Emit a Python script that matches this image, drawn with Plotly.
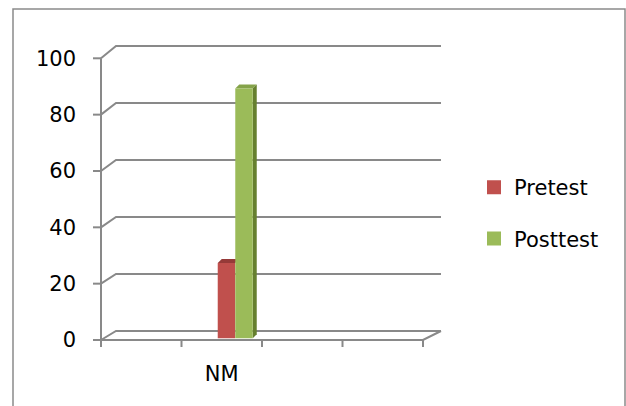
import plotly.graph_objects as go

# ---- data -------------------------------------------------------------
categories = ["", "NM", "", ""]
series_names = ["Pretest", "Posttest"]
pretest = [None, 26, None, None]
posttest = [None, 88, None, None]
y_ticks = [0, 20, 40, 60, 80, 100]

# ---- styling ----------------------------------------------------------
FONT = "DejaVu Sans, Verdana, sans-serif"
FONT_SIZE = 21
GRID = "#898989"
RED, RED_TOP = "#C0504D", "#953A38"
GREEN, GREEN_TOP, GREEN_SIDE = "#9BBB59", "#85A34A", "#66802F"

W, H = 626, 406
XU = 80.5          # pixels per category
YU = 2.817         # pixels per value unit (front plane)
L, R, T, B = 91, 175, 38, 56
AX_X = 101         # pixel column of the front value axis
AX_Y = 340         # pixel row of the zero line (front)

x_lo = -0.5 - (AX_X - L) / XU
x_hi = x_lo + (W - L - R) / XU
y_lo = -((H - B) - AX_Y) / YU
y_hi = y_lo + (H - T - B) / YU

# 3-D depth offsets (pixels -> data units)
BACK_DX_L = 15 / XU
BACK_DX_R = 18 / XU
BACK_LIFT = 9 / YU
BACK_SCALE = 2.85 / YU
BAR_DX = 4 / XU
BAR_DY = 4 / YU
BAR_OUTLINE = 2                    # px outline in the bar's own colour
HALF = BAR_OUTLINE / 2
BAR_BASE = (1.7 + HALF) / YU
BAR_W = 0.217                      # visible face width
OFFSETS = [-0.050, 0.168]          # visible face left edge, from category centre
YTICK_LEN = 8 / XU
XTICK_LEN = 7 / YU

n = len(categories)
x_first, x_last = -0.5, n - 0.5


def back_y(v):
    return v * BACK_SCALE + BACK_LIFT


shapes = []
line = dict(color=GRID, width=2)

# walls: side-wall diagonals and back-wall gridlines
for v in y_ticks:
    vb = back_y(v)
    shapes.append(dict(
        type="path", xref="x", yref="y", layer="below", line=line,
        path=f"M{x_first},{v} L{x_first + BACK_DX_L},{vb} L{x_last + BACK_DX_R},{vb}",
    ))
# floor front edge and right edge
shapes.append(dict(
    type="path", xref="x", yref="y", layer="below", line=line,
    path=f"M{x_first},0 L{x_last},0 L{x_last + BACK_DX_R},{back_y(0)}",
))
# front value axis with its ticks
shapes.append(dict(type="line", xref="x", yref="y", layer="below", line=line,
                   x0=x_first, x1=x_first, y0=0, y1=max(y_ticks)))
for v in y_ticks:
    shapes.append(dict(type="line", xref="x", yref="y", layer="below", line=line,
                       x0=x_first - YTICK_LEN, x1=x_first, y0=v, y1=v))
# category boundary ticks
for k in range(n + 1):
    b = k - 0.5
    shapes.append(dict(type="line", xref="x", yref="y", layer="below", line=line,
                       x0=b, x1=b, y0=0, y1=-XTICK_LEN))

# bar tops and sides for the 3-D look
no_line = dict(width=0)
for vals, off, top_c, side_c in [(pretest, OFFSETS[0], RED_TOP, None),
                                 (posttest, OFFSETS[1], GREEN_TOP, GREEN_SIDE)]:
    for i, v in enumerate(vals):
        if v is None:
            continue
        x0 = i + off
        x1 = x0 + BAR_W
        top = BAR_BASE + v + HALF / YU
        bot = BAR_BASE - HALF / YU
        shapes.append(dict(
            type="path", xref="x", yref="y", layer="below", line=no_line, fillcolor=top_c,
            path=(f"M{x0},{top} L{x0 + BAR_DX},{top + BAR_DY} "
                  f"L{x1 + BAR_DX},{top + BAR_DY} L{x1},{top} Z"),
        ))
        if side_c:
            shapes.append(dict(
                type="path", xref="x", yref="y", layer="below", line=no_line, fillcolor=side_c,
                path=(f"M{x1},{bot} L{x1},{top} L{x1 + BAR_DX},{top + BAR_DY} "
                      f"L{x1 + BAR_DX},{bot + BAR_DY} Z"),
            ))

# outer chart border
pw, ph = W - L - R, H - T - B
shapes.append(dict(
    type="rect", xref="paper", yref="paper", layer="above",
    line=dict(color="#8A8A8A", width=1.5),
    x0=(13 - L) / pw, x1=(625 - L) / pw,
    y0=((H - B) - 430) / ph, y1=((H - B) - 9) / ph,
))

fig = go.Figure()
xs = list(range(n))
inner_w = BAR_W - BAR_OUTLINE / XU
for vals, off, name, grp, col in [(pretest, OFFSETS[0], series_names[0], "a", RED),
                                  (posttest, OFFSETS[1], series_names[1], "b", GREEN)]:
    fig.add_trace(go.Bar(
        x=xs, y=vals, base=BAR_BASE, width=inner_w, offset=off + HALF / XU,
        name=name, legendgroup=grp,
        marker=dict(color=col, line=dict(width=BAR_OUTLINE, color=col)),
    ))

fig.update_layout(
    width=W, height=H,
    margin=dict(l=L, r=R, t=T, b=B, pad=0),
    paper_bgcolor="white", plot_bgcolor="rgba(0,0,0,0)",
    barmode="overlay",
    font=dict(family=FONT, size=FONT_SIZE, color="#000000"),
    shapes=shapes,
    showlegend=True,
    legend=dict(
        xref="container", yref="container",
        x=474 / W, y=1 - 167 / H, xanchor="left", yanchor="top",
        tracegroupgap=21, font=dict(size=FONT_SIZE),
        bgcolor="rgba(0,0,0,0)",
    ),
    xaxis=dict(
        range=[x_lo, x_hi], tickmode="array", tickvals=xs, ticktext=categories,
        showgrid=False, zeroline=False, showline=False, ticks="",
        ticklabelstandoff=9, fixedrange=True,
    ),
    yaxis=dict(
        range=[y_lo, y_hi], tickmode="array", tickvals=y_ticks,
        showgrid=False, zeroline=False, showline=False, ticks="",
        ticklabelstandoff=14, fixedrange=True,
    ),
)

fig.write_html("out.html")
